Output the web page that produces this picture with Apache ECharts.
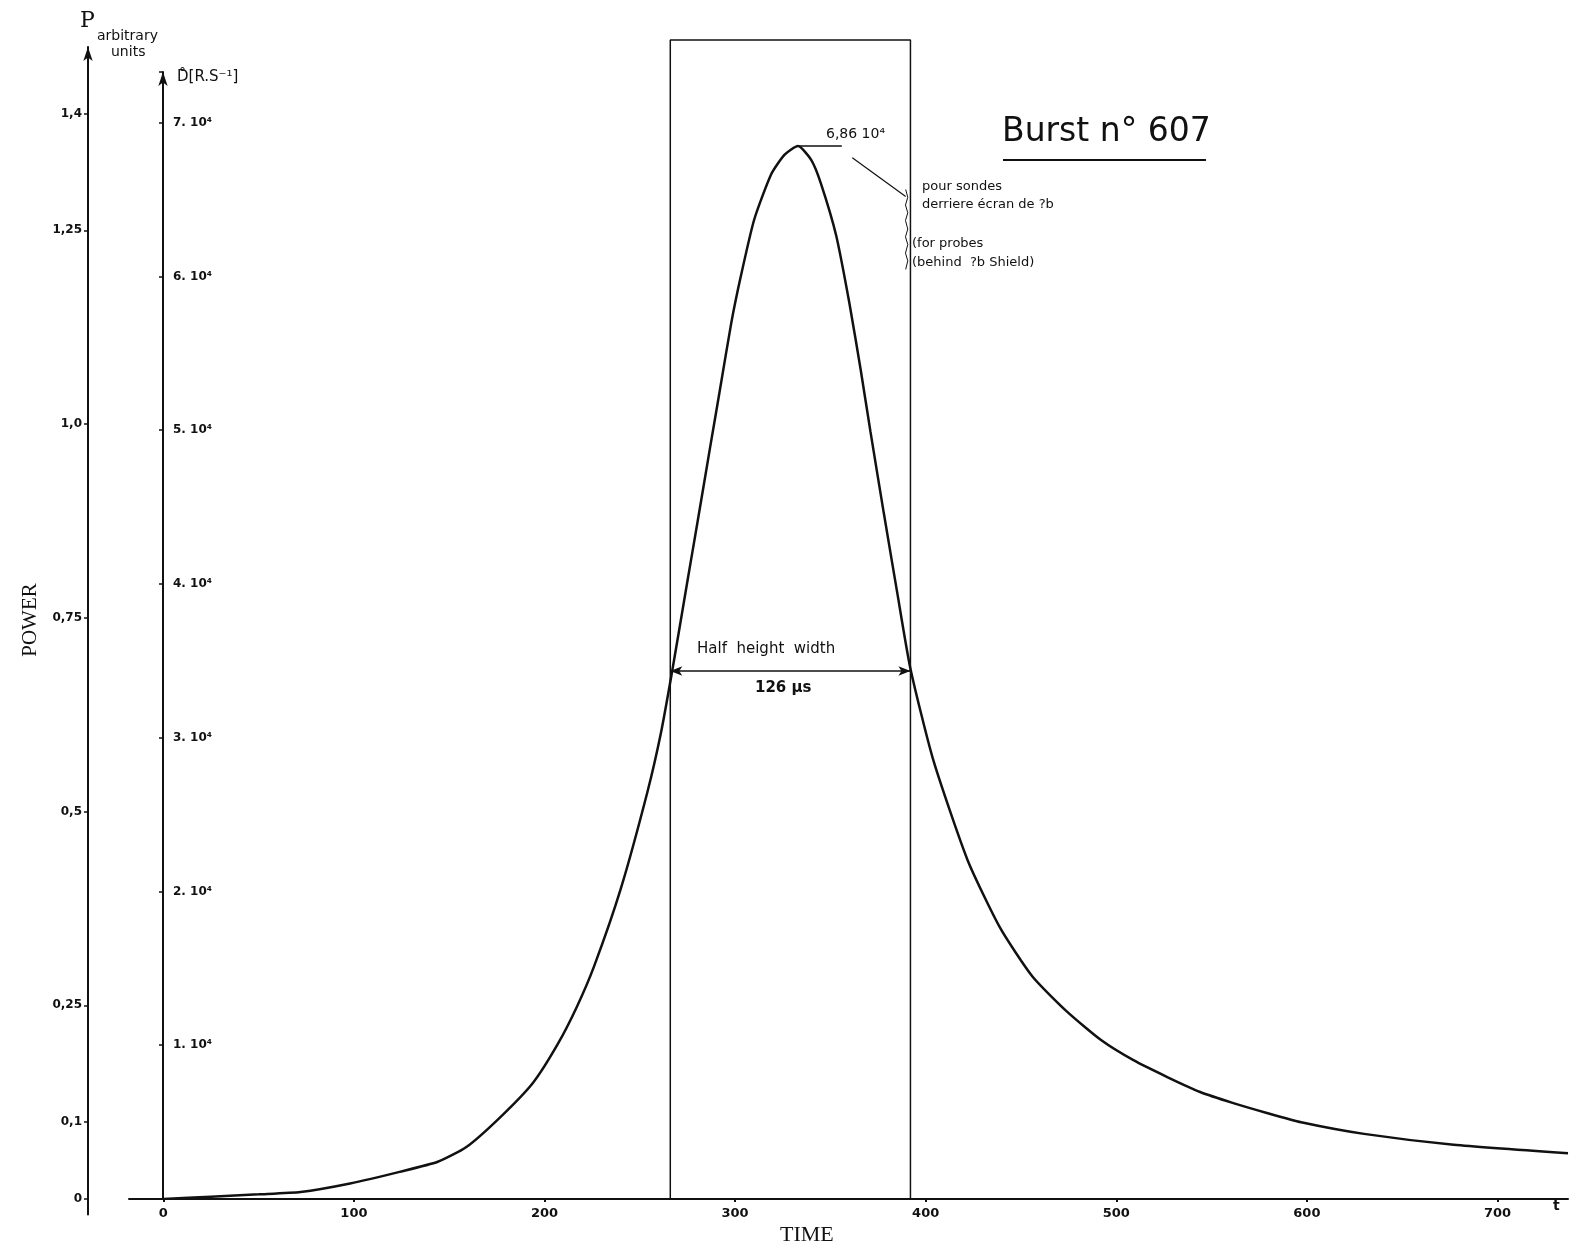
<!DOCTYPE html>
<html>
<head>
<meta charset="utf-8">
<script src="https://cdn.jsdelivr.net/npm/echarts@6/dist/echarts.min.js"></script>
<style>
  html, body { margin: 0; padding: 0; background: #fff; }
  #chart { width: 1570px; height: 1249px; }
</style>
</head>
<body>
<div id="chart"></div>
<script>
// burst curve (time in µs, power in arbitrary units)
const timeUs = [0, 25, 50, 72, 98, 124, 144, 159, 177, 194, 207, 217, 226, 240, 254, 261, 267, 275, 280, 287,
  292, 298, 303, 310, 319, 326, 333, 340, 345, 353, 360, 366, 371, 378, 385, 392, 404, 422, 439, 456,
  474, 492, 509, 527, 544, 561, 579, 597, 630, 677, 737]
const power = [0, 0.003, 0.006, 0.009, 0.020, 0.035, 0.048, 0.067, 0.106, 0.150, 0.200, 0.248, 0.300, 0.400, 0.525, 0.600, 0.681, 0.797, 0.869, 0.971,
  1.043, 1.130, 1.190, 1.263, 1.322, 1.347, 1.358, 1.340, 1.310, 1.243, 1.155, 1.068, 0.990, 0.885, 0.783, 0.684, 0.566, 0.437, 0.350, 0.287,
  0.242, 0.205, 0.179, 0.157, 0.138, 0.124, 0.111, 0.099, 0.084, 0.070, 0.059]

// half height width box
const boxTime = [266, 266, 392, 392]
const boxPower = [0, 1.495, 1.495, 0]
const halfHeight = 0.681

// peak annotation lines
const peakLineTime = [333, 356]
const peakLinePower = [1.358, 1.358]
const pointerTime = [361.5, 389.5]
const pointerPower = [1.343, 1.293]
const braceTime = [389.5, 390.6, 389.4, 390.6, 389.4, 390.6, 389.4, 390.6, 389.4, 390.6, 389.5]
const bracePower = [1.302, 1.292, 1.282, 1.272, 1.262, 1.251, 1.241, 1.231, 1.220, 1.210, 1.199]

// axes
const timeTicks = [0, 100, 200, 300, 400, 500, 600, 700]
const powerTicks = [0, 0.1, 0.25, 0.5, 0.75, 1, 1.25, 1.4]
const powerTickLabels = ['0', '0,1', '0,25', '0,5', '0,75', '1,0', '1,25', '1,4']
const doseTicks = [10000, 20000, 30000, 40000, 50000, 60000, 70000]

const zip = (a, b) => a.map((v, i) => [v, b[i]])
const font = 'DejaVu Sans'
const ink = '#111'

const chart = echarts.init(document.getElementById('chart'))

chart.setOption({
  animation: false,
  backgroundColor: '#fff',
  grid: [
    { left: 129, right: 2, top: 36, bottom: 50, outerBoundsMode: 'none' },
    { left: 163, width: 10, top: 72, bottom: 50, outerBoundsMode: 'none' },
    { left: 88, width: 10, top: 47, bottom: 34.5, outerBoundsMode: 'none' }
  ],
  xAxis: [
    {
      gridIndex: 0,
      type: 'value',
      min: -18,
      max: 737,
      splitLine: { show: false },
      axisLine: { onZero: false, lineStyle: { color: ink, width: 2 } },
      axisTick: { customValues: timeTicks, length: 3, lineStyle: { color: ink, width: 2 } },
      axisLabel: {
        customValues: timeTicks,
        margin: 8,
        color: ink,
        fontFamily: font,
        fontWeight: 'bold',
        fontSize: 13
      }
    },
    { gridIndex: 1, type: 'value', show: false },
    { gridIndex: 2, type: 'value', show: false }
  ],
  yAxis: [
    { gridIndex: 0, type: 'value', min: 0, max: 1.5, show: false },
    {
      // dose rate axis
      gridIndex: 1,
      type: 'value',
      min: 0,
      max: 73300,
      interval: 10000,
      splitLine: { show: false },
      axisLine: {
        show: true,
        onZero: false,
        symbol: ['none', 'arrow'],
        symbolSize: [7, 14],
        lineStyle: { color: ink, width: 2 }
      },
      axisTick: { show: true, length: 4, lineStyle: { color: ink, width: 1.5 } },
      axisLabel: {
        inside: true,
        margin: 10,
        color: ink,
        fontFamily: font,
        fontWeight: 'bold',
        fontSize: 12,
        formatter: v => (doseTicks.includes(v) ? (v / 10000) + '. 10⁴' : '')
      }
    },
    {
      // power axis
      gridIndex: 2,
      type: 'value',
      min: -0.02,
      max: 1.4865,
      splitLine: { show: false },
      axisLine: {
        show: true,
        onZero: false,
        symbol: ['none', 'arrow'],
        symbolSize: [7, 14],
        lineStyle: { color: ink, width: 2 }
      },
      axisTick: { show: true, customValues: powerTicks, length: 4, lineStyle: { color: ink, width: 1.5 } },
      axisLabel: {
        customValues: powerTicks,
        margin: 6,
        color: ink,
        fontFamily: font,
        fontWeight: 'bold',
        fontSize: 12,
        formatter: v => {
          const i = powerTicks.findIndex(p => Math.abs(p - v) < 1e-6)
          return i >= 0 ? powerTickLabels[i] : ''
        }
      }
    }
  ],
  series: [
    {
      name: 'power',
      type: 'line',
      xAxisIndex: 0,
      yAxisIndex: 0,
      data: zip(timeUs, power),
      showSymbol: false,
      smooth: 0.2,
      lineStyle: { color: ink, width: 2.5 }
    },
    {
      name: 'box',
      type: 'line',
      xAxisIndex: 0,
      yAxisIndex: 0,
      data: zip(boxTime, boxPower),
      showSymbol: false,
      lineStyle: { color: ink, width: 1.5 },
      markLine: {
        silent: true,
        symbol: ['arrow', 'arrow'],
        symbolSize: [7, 12],
        lineStyle: { color: ink, width: 1.5, type: 'solid' },
        label: { show: false },
        data: [[{ coord: [boxTime[0], halfHeight] }, { coord: [boxTime[2], halfHeight] }]]
      }
    },
    {
      name: 'peak',
      type: 'line',
      data: zip(peakLineTime, peakLinePower),
      showSymbol: false,
      lineStyle: { color: ink, width: 1.5 }
    },
    {
      name: 'pointer',
      type: 'line',
      data: zip(pointerTime, pointerPower),
      showSymbol: false,
      lineStyle: { color: ink, width: 1.2 }
    },
    {
      name: 'brace',
      type: 'line',
      data: zip(braceTime, bracePower),
      showSymbol: false,
      lineStyle: { color: ink, width: 1 }
    }
  ],
  graphic: [
    { type: 'text', left: 80, top: 10, style: { text: 'P', fill: ink, font: '22px "DejaVu Serif"' } },
    { type: 'text', left: 97, top: 29, style: { text: 'arbitrary', fill: ink, font: '14px "DejaVu Sans"' } },
    { type: 'text', left: 111, top: 45, style: { text: 'units', fill: ink, font: '14px "DejaVu Sans"' } },
    { type: 'text', left: 177, top: 70, style: { text: 'D\u030A[R.S⁻¹]', fill: ink, font: '15px "DejaVu Sans"' } },
    { type: 'text', x: 30, y: 620, rotation: Math.PI / 2, style: { text: 'POWER', fill: ink, align: 'center', verticalAlign: 'middle', font: '21px "Liberation Serif"' } },
    { type: 'text', left: 780, top: 1224, style: { text: 'TIME', fill: ink, font: '22px "Liberation Serif"' } },
    { type: 'text', left: 1553, top: 1199, style: { text: 't', fill: ink, font: 'bold 14px "DejaVu Sans"' } },
    { type: 'text', left: 826, top: 127, style: { text: '6,86 10⁴', fill: ink, font: '14px "DejaVu Sans"' } },
    { type: 'text', left: 922, top: 180, style: { text: 'pour sondes', fill: ink, font: '13px "DejaVu Sans"' } },
    { type: 'text', left: 922, top: 198, style: { text: 'derriere écran de ?b', fill: ink, font: '13px "DejaVu Sans"' } },
    { type: 'text', left: 912, top: 237, style: { text: '(for probes', fill: ink, font: '13px "DejaVu Sans"' } },
    { type: 'text', left: 912, top: 256, style: { text: '(behind  ?b Shield)', fill: ink, font: '13px "DejaVu Sans"' } },
    { type: 'text', left: 697, top: 642, style: { text: 'Half  height  width', fill: ink, font: '15px "DejaVu Sans"' } },
    { type: 'text', left: 755, top: 681, style: { text: '126 µs', fill: ink, font: 'bold 15px "DejaVu Sans"' } },
    { type: 'text', left: 1002, top: 116, style: { text: 'Burst n° 607', fill: ink, font: '33px "DejaVu Sans"' } },
    { type: 'line', shape: { x1: 1003, y1: 160, x2: 1206, y2: 160 }, style: { stroke: ink, lineWidth: 2 } }
  ]
})
</script>
</body>
</html>
